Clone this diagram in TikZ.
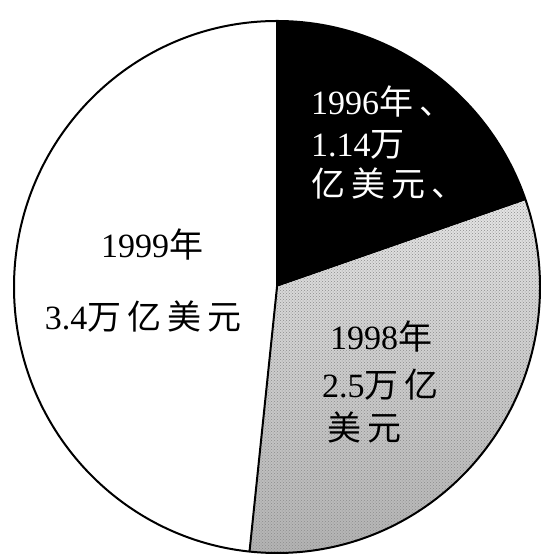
\documentclass[tikz,border=0pt]{standalone}
\usepackage{fontspec}
\setmainfont{Liberation Serif}
\newfontfamily\cjk{Noto Sans CJK SC}
\usetikzlibrary{patterns}
\newcommand{\gap}{\hspace{6pt}}
\newcommand{\zh}[1]{{\cjk #1}}
\tikzset{piesector/.style={
  draw=black,
  line width=2pt,
  line join=round,
  },
  pielabel/.style={
  font=\fontsize{34}{40}\selectfont,
  inner sep=0pt,
  },
  darklabel/.style={
  pielabel,
  text = white,
  anchor = west,
  },
  greylabel/.style={
  pielabel,
  text = black,
  anchor = west,
  }
  }

\begin{document}
\begin{tikzpicture}[x=1pt,y=1pt]
      \useasboundingbox (0,0) rectangle (540,556);
      \fill[white] (0,0) rectangle (540,556);
      \coordinate (o) at (277,269);

      % 1996 sector
      \fill[black] (o) -- ++(19:263pt and 266pt)
        arc[start angle=19, end angle=90, x radius=263pt, y radius=266pt] -- cycle;

      % 1998 sector
      \begin{scope}
        \clip (o) -- ++(-96:263pt and 266pt)
          arc[start angle=-96, end angle=19, x radius=263pt, y radius=266pt] -- cycle;
        \shade[top color=gray!20, bottom color=gray!60] (240,0) rectangle (540,360);
        \fill[pattern=crosshatch dots, pattern color=black!45] (240,0) rectangle (540,360);
      \end{scope}

      \draw[piesector] (o) ellipse [x radius=263pt, y radius=266pt];
      \draw[piesector] (o) -- ++(90:263pt and 266pt) coordinate (top);
      \draw[piesector] (o) -- ++(-96:263pt and 266pt) coordinate (bottom);

      \node[pielabel] (y1999) at (152,311) {1999\zh{年}};
      \node[pielabel] (v1999) at (143,239) {3.4\zh{万\gap 亿\gap 美\gap 元}};

      \node[darklabel] (y1996) at (311,454) {1996\zh{年\gap 、}};
      \node[darklabel] (v1996) at (311,411) {1.14\zh{万}};
      \node[darklabel] (u1996) at (311,373) {\zh{亿\gap 美\gap 元\gap 、}};

      \node[greylabel] (y1998) at (330,219) {1998\zh{年}};
      \node[greylabel] (v1998) at (322,171) {2.5\zh{万\gap 亿}};
      \node[greylabel] (u1998) at (327,129) {\zh{美\gap 元}};
    \end{tikzpicture}
\end{document}
